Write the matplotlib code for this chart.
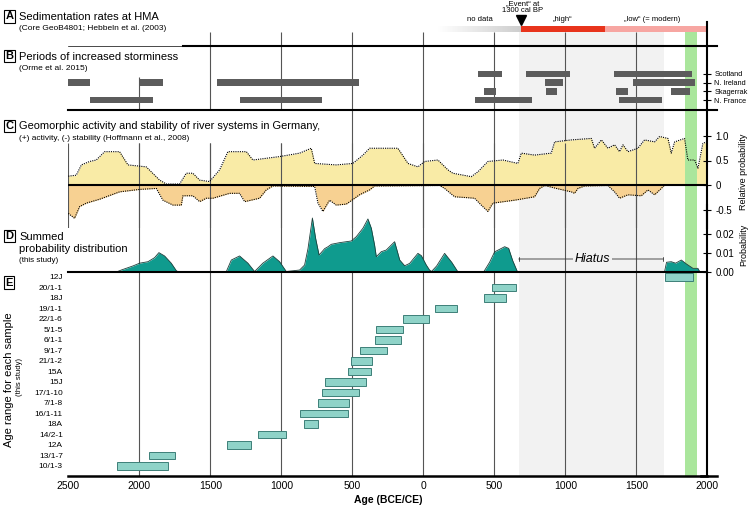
import matplotlib.pyplot as plt
from matplotlib.colors import LinearSegmentedColormap
import numpy as np

plt.rcParams['font.family'] = ['Liberation Sans', 'DejaVu Sans']

W, H = 750, 505
X_LEFT, X_RIGHT = 68.3, 707.3

# ---------------- data ----------------
tick_years = [-2500, -2000, -1500, -1000, -500, 0, 500, 1000, 1500, 2000]
tick_labels = ['2500', '2000', '1500', '1000', '500', '0', '500', '1000', '1500', '2000']

hiatus = (672, 1695)
green_band = (1840, 1927)

# A: sedimentation rates
nodata_span = (100, 690)
high_span = (690, 1277)
low_span = (1277, 2000)
event_year = 690

# B: storminess periods (start, end)
storm_regions = ['Scotland', 'N. Ireland', 'Skagerrak', 'N. France']
storm_scotland = [(385, 554), (725, 1035), (1342, 1894)]
storm_nireland = [(-2500, -2350), (-1998, -1831), (-1456, -451), (854, 981), (1479, 1911)]
storm_skagerrak = [(427, 514), (861, 944), (1354, 1441), (1744, 1877)]
storm_nfrance = [(-2345, -1904), (-1289, -711), (361, 768), (1378, 1683)]

# C: geomorphic activity (+) / stability (-)
geo_pos_years = [-2500, -2444, -2408, -2350, -2303, -2244, -2139, -2080, -1951, -1857,
                 -1810, -1716, -1669, -1623, -1575, -1505, -1434, -1376, -1246, -1200,
                 -1012, -871, -789, -765, -613, -496, -425, -378, -179, -108,
                 -38, 9, 103, 173, 208, 338, 385, 455, 561, 666,
                 690, 784, 901, 925, 1042, 1183, 1206, 1254, 1300, 1347,
                 1382, 1406, 1441, 1511, 1558, 1629, 1664, 1723, 1746, 1770,
                 1840, 1863, 1911, 1934, 1969, 1995]
geo_pos_vals = [0.18, 0.20, 0.41, 0.48, 0.51, 0.68, 0.68, 0.41, 0.37, 0.10,
                0.02, 0.02, 0.24, 0.24, 0.10, 0.07, 0.31, 0.68, 0.68, 0.51,
                0.58, 0.65, 0.75, 0.44, 0.41, 0.44, 0.61, 0.75, 0.75, 0.44,
                0.37, 0.48, 0.51, 0.31, 0.24, 0.17, 0.27, 0.48, 0.51, 0.44,
                0.65, 0.61, 0.65, 0.88, 0.92, 0.95, 0.75, 0.92, 0.75, 0.82,
                0.68, 0.82, 0.68, 0.75, 0.92, 0.88, 0.99, 0.95, 0.65, 0.88,
                0.95, 0.51, 0.51, 0.34, 0.85, 0.88]
geo_neg_years = [-2500, -2456, -2420, -2373, -2279, -2139, -1998, -1880, -1834, -1763,
                 -1704, -1693, -1623, -1575, -1528, -1482, -1364, -1294, -1258, -1153,
                 -1106, -1059, -765, -742, -707, -660, -613, -542, -449, -378,
                 -343, 115, 150, 220, 361, 408, 455, 490, 643, 784,
                 819, 855, 937, 1042, 1065, 1089, 1136, 1300, 1347, 1382,
                 1441, 1535, 1582, 1629, 1676, 1699, 1995]
geo_neg_vals = [-0.58, -0.68, -0.44, -0.37, -0.29, -0.14, -0.09, -0.07, -0.31, -0.41,
                -0.41, -0.22, -0.22, -0.34, -0.27, -0.27, -0.17, -0.17, -0.34, -0.27,
                -0.10, -0.02, -0.03, -0.37, -0.54, -0.31, -0.41, -0.39, -0.20, -0.10,
                -0.02, -0.01, -0.07, -0.24, -0.27, -0.41, -0.54, -0.37, -0.31, -0.24,
                -0.07, -0.01, -0.07, -0.14, -0.17, -0.07, -0.02, -0.01, -0.14, -0.27,
                -0.20, -0.22, -0.10, -0.20, -0.07, 0.0, 0.0]

# D: summed probability distribution
spd_years = [-2153, -2127, -2045, -1998, -1939, -1892, -1862, -1822, -1775, -1739,
             -1730, -1387, -1352, -1294, -1235, -1188, -1130, -1059, -1012, -965,
             -871, -836, -812, -781, -758, -734, -694, -671, -648, -589,
             -507, -472, -425, -390, -366, -343, -331, -296, -261, -202,
             -179, -166, -131, -96, -38, -14, 21, 44, 58, 94,
             150, 200, 242, 427, 467, 502, 573, 601, 629, 662,
             1699, 1713, 1746, 1777, 1817, 1854, 1899, 1934, 1946]
spd_vals = [0, 0.0008, 0.003, 0.0045, 0.0053, 0.0075, 0.0102, 0.0084, 0.0045, 0.0004,
            0, 0, 0.0062, 0.0084, 0.0045, 0, 0.0045, 0.0084, 0.0053, 0,
            0.0008, 0.0035, 0.0124, 0.0289, 0.0178, 0.0089, 0.0124, 0.0134, 0.0147, 0.0156,
            0.0165, 0.0188, 0.0234, 0.0284, 0.0234, 0.0143, 0.0080, 0.0107, 0.0116, 0.0161,
            0.0098, 0.0062, 0.0031, 0.0044, 0.0098, 0.0086, 0.0035, 0.0008, 0, 0.003,
            0.0098, 0.005, 0, 0, 0.005, 0.0106, 0.0134, 0.0125, 0.006, 0,
            0, 0.005, 0.0053, 0.0045, 0.0062, 0.004, 0.0017, 0.0017, 0]

# E: age range per sample (top to bottom)
samples = ['12J', '20/1-1', '18J', '19/1-1', '22/1-6', '5/1-5', '6/1-1', '9/1-7',
           '21/1-2', '15A', '15J', '17/1-10', '7/1-8', '16/1-11', '18A', '14/2-1',
           '12A', '13/1-7', '10/1-3']
sample_start = [1705, 483, 427, 82, -144, -336, -341, -446,
                -510, -531, -690, -714, -742, -866, -843, -1165,
                -1383, -1932, -2158]
sample_end = [1900, 652, 582, 237, 39, -144, -157, -256,
              -362, -371, -406, -454, -526, -531, -739, -968,
              -1211, -1746, -1796]

# ---------------- figure ----------------
GRID_C = '#555555'
HIATUS_C = '#f2f2f2'
GREEN_C = '#aae69c'

fig = plt.figure(figsize=(7.5, 5.05), dpi=100)


def add_panel(top, bottom, z=2):
    ax = fig.add_axes([X_LEFT / W, 1 - bottom / H, (X_RIGHT - X_LEFT) / W, (bottom - top) / H])
    ax.set_facecolor('none')
    ax.set_zorder(z)
    for s in ax.spines.values():
        s.set_visible(False)
    ax.set_xticks([])
    ax.set_yticks([])
    return ax


def ptext(x, y, s, **kw):
    kw.setdefault('va', 'center')
    return fig.text(x / W, 1 - y / H, s, **kw)


def panel_label(y, s):
    ptext(9.3, y, s, ha='center', fontsize=8, fontweight='bold',
          bbox=dict(boxstyle='square,pad=0.12', fc='white', ec='black', lw=0.8))


def right_spine(ax):
    ax.spines['right'].set_visible(True)
    ax.spines['right'].set_linewidth(1.5)


# background: hiatus band, green band, vertical grid (y in pixel rows)
bg = add_panel(21.7, 475.7, z=0)
bg.set_xlim(-2500, 2000)
bg.set_ylim(475.7, 21.7)
bg.fill_between(hiatus, 32, 475.7, color=HIATUS_C, lw=0)
bg.fill_between(green_band, 32, 475.7, color=GREEN_C, lw=0)
grid_segments = {-2500: [(85, 110), (143, 228)],
                 -2000: [(77, 110), (143, 475.7)],
                 -1500: [(32, 110), (143, 475.7)],
                 -1000: [(32, 110), (143, 475.7)]}
for yr in tick_years[1:-1]:
    for y0, y1 in grid_segments.get(yr, [(32, 475.7)]):
        bg.vlines(yr, y0, y1, color=GRID_C, lw=0.8)

# ---- A ----
axA = add_panel(21.7, 45.7, z=3)
grad = LinearSegmentedColormap.from_list('nd', ['#ffffff', '#cdcdcd'])
axA.imshow(np.linspace(0, 1, 256)[None, :], extent=[nodata_span[0], nodata_span[1], 0.571, 0.821],
           cmap=grad, aspect='auto')
axA.barh(0.696, high_span[1] - high_span[0], left=high_span[0], height=0.25, color='#e8341c', lw=0)
axA.barh(0.696, low_span[1] - low_span[0], left=low_span[0], height=0.25, color='#f7a6a2', lw=0)
axA.plot(event_year, 1.09, marker='v', ms=6.5, color='black', clip_on=False)
axA.set_xlim(-2500, 2000)
axA.set_ylim(0, 1)
right_spine(axA)
axA.axhline(0, xmin=0.18, xmax=1.015, color='black', lw=1.5, clip_on=False)
axA.axhline(0, xmin=0, xmax=0.18, color='black', lw=0.5, clip_on=False)

ptext(523, 7.5, '\u201eEvent\u201c at\n1300 cal BP', ha='center', fontsize=5.5, linespacing=1.0)
ptext(480, 19.5, 'no data', ha='center', fontsize=5.5)
ptext(563, 19.5, '\u201ehigh\u201c', ha='center', fontsize=5.5)
ptext(652, 19.5, '\u201elow\u201c (= modern)', ha='center', fontsize=5.5)

panel_label(16.4, 'A')
ptext(19, 17, 'Sedimentation rates at HMA', fontsize=8)
ptext(19, 28.5, '(Core GeoB4801; Hebbeln et al. (2003)', fontsize=6)

# ---- B ----
axB = add_panel(45.7, 110, z=3)
storm_rows = [storm_scotland, storm_nireland, storm_skagerrak, storm_nfrance]
for k, periods in enumerate(storm_rows):
    for a, b in periods:
        axB.barh(k, b - a, left=a, height=0.75, color='#5c5c5c', lw=0)
axB.set_xlim(-2500, 2000)
axB.set_ylim(4.15, -3.26)
right_spine(axB)
axB.yaxis.tick_right()
axB.set_yticks(range(len(storm_regions)))
axB.set_yticklabels(storm_regions)
axB.tick_params(axis='y', direction='inout', length=6, width=0.8, labelsize=5.3, pad=2)
axB.axhline(4.15, xmin=0, xmax=1.015, color='black', lw=1.5, clip_on=False)

panel_label(56, 'B')
ptext(19, 57, 'Periods of increased storminess', fontsize=8)
ptext(19, 69, '(Orme et al. 2015)', fontsize=6)

# ---- C ----
axC = add_panel(110, 228, z=3)
c_low, c_high = -(228 - 185) / 49, (185 - 110) / 49
axC.fill_between(geo_pos_years, 0, geo_pos_vals, color='#f9eba6', lw=0)
axC.fill_between(geo_neg_years, 0, geo_neg_vals, color='#f7d192', lw=0)
axC.axvspan(*green_band, ymin=(0 - c_low) / (c_high - c_low), ymax=0.75, color=GREEN_C, lw=0)
c_grid_top = (185 - 143) / 49
axC.vlines(tick_years[:-1], c_low, c_grid_top, color=GRID_C, lw=0.8)
axC.plot(geo_pos_years, geo_pos_vals, color='black', lw=0.8, ls=(0, (1, 1)))
axC.plot(geo_neg_years, geo_neg_vals, color='black', lw=0.8, ls=(0, (1, 1)))
axC.axhline(0, color='black', lw=1.5)
axC.set_xlim(-2500, 2000)
axC.set_ylim(c_low, c_high)
right_spine(axC)
axC.yaxis.tick_right()
axC.set_yticks([1.0, 0.5, 0, -0.5])
axC.set_yticklabels(['1.0', '0.5', '0', '-0.5'])
axC.tick_params(axis='y', direction='inout', length=6, width=0.8, labelsize=7, pad=3)
axC.yaxis.set_label_position('right')
axC.set_ylabel('Relative probability', fontsize=6.5)
axC.yaxis.set_label_coords(1.050, 0.475)

panel_label(126, 'C')
ptext(19, 126, 'Geomorphic activity and stability of river systems in Germany,', fontsize=7.9)
ptext(19, 138, '(+) activity, (-) stability (Hoffmann et al., 2008)', fontsize=6)

# ---- D ----
axD = add_panel(205, 271.5, z=4)
d_top = (271.5 - 205) / 1850
axD.fill_between(spd_years, 0, spd_vals, color='#0f9b8e', lw=0)
axD.plot(spd_years, spd_vals, color='#1d3f3b', lw=0.6)
axD.set_xlim(-2500, 2000)
axD.set_ylim(0, d_top)
right_spine(axD)
axD.spines['bottom'].set_visible(True)
axD.spines['bottom'].set_linewidth(1.5)
axD.yaxis.tick_right()
axD.set_yticks([0, 0.01, 0.02])
axD.set_yticklabels(['0.00', '0.01', '0.02'])
axD.tick_params(axis='y', direction='inout', length=6, width=0.8, labelsize=7, pad=3)
axD.yaxis.set_label_position('right')
axD.set_ylabel('Probability', fontsize=6.5)
axD.yaxis.set_label_coords(1.050, 0.40)

hy = (271.5 - 259) / 1850
axD.annotate('', xy=(hiatus[0], hy), xytext=(hiatus[1] - 8, hy),
             arrowprops=dict(arrowstyle='|-|', mutation_scale=1.5, lw=0.6, color='#333333',
                             shrinkA=0, shrinkB=0))
axD.text(1193, hy, 'Hiatus', ha='center', va='center', fontsize=9, style='italic',
         bbox=dict(boxstyle='square,pad=0.15', fc=HIATUS_C, ec='none'))

panel_label(236, 'D')
ptext(19, 236.5, 'Summed', fontsize=8)
ptext(19, 248.5, 'probability distribution', fontsize=8)
ptext(19, 260.5, '(this study)', fontsize=5.8)

# ---- E ----
axE = add_panel(271.5, 475.7, z=3)
n = len(samples)
ypos = [n - 1 - i for i in range(n)]
widths = [e - s for s, e in zip(sample_start, sample_end)]
axE.barh(ypos, widths, left=sample_start, height=0.72, color='#8fd3c8',
         edgecolor='#3d7f78', lw=0.7)
axE.set_xlim(-2500, 2000)
axE.set_ylim(-0.924, 18.52)
right_spine(axE)
axE.spines['bottom'].set_visible(True)
axE.spines['bottom'].set_linewidth(1.8)
axE.axhline(-0.924, xmin=0.99, xmax=1.015, color='black', lw=1.8, clip_on=False)
axE.set_yticks(ypos)
axE.set_yticklabels(samples)
axE.tick_params(axis='y', length=0, labelsize=6, pad=4)
axE.set_xticks(tick_years)
axE.set_xticklabels(tick_labels)
axE.tick_params(axis='x', length=0, labelsize=7.5, pad=4)
axE.set_xlabel('Age (BCE/CE)', fontsize=7.5, fontweight='bold', labelpad=3)

panel_label(282.5, 'E')
ptext(9, 380, 'Age range for each sample', rotation=90, ha='center', fontsize=8)
ptext(19.5, 377, '(this study)', rotation=90, ha='center', fontsize=5.5)

fig.savefig('out.png', dpi=100)
